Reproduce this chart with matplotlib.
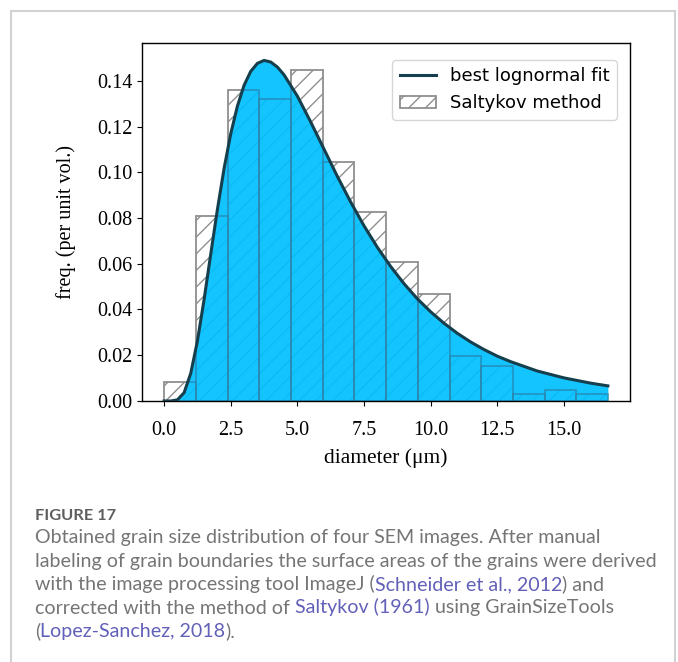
import numpy as np
import matplotlib.pyplot as plt
from matplotlib.patches import Rectangle

# Saltykov histogram (bin width in um, freq per unit vol.)
bin_width = 1.19
saltykov_freq = [0.0081, 0.0807, 0.1360, 0.1319, 0.1445, 0.1046, 0.0825,
                 0.0608, 0.0468, 0.0196, 0.0152, 0.0029, 0.0047, 0.0031]

# best lognormal fit
fit_x = [0.0, 0.25, 0.5, 0.75, 1.0, 1.25, 1.5, 1.75, 2.0, 2.25, 2.5, 2.75,
         3.0, 3.25, 3.5, 3.75, 4.0, 4.25, 4.5, 5.0, 5.5, 6.0, 6.5, 7.0,
         7.5, 8.0, 8.5, 9.0, 9.5, 10.0, 10.5, 11.0, 11.5, 12.0, 12.5,
         13.0, 14.0, 15.0, 16.0, 16.65]
fit_y = [0.0, 0.0, 0.0005, 0.0036, 0.0121, 0.0262, 0.0443, 0.0642, 0.0837,
         0.1016, 0.1168, 0.1289, 0.1380, 0.1441, 0.1476, 0.1489, 0.1482,
         0.1460, 0.1426, 0.1333, 0.1220, 0.1101, 0.0982, 0.0870, 0.0766,
         0.0672, 0.0588, 0.0513, 0.0447, 0.0390, 0.0340, 0.0296, 0.0258,
         0.0225, 0.0196, 0.0172, 0.0131, 0.0101, 0.0078, 0.0066]

xticks = [0.0, 2.5, 5.0, 7.5, 10.0, 12.5, 15.0]
yticks = [0.00, 0.02, 0.04, 0.06, 0.08, 0.10, 0.12, 0.14]

caption_title = 'FIGURE 17'
caption_lines = [
    [('Obtained grain size distribution of four SEM images. After manual', 'g')],
    [('labeling of grain boundaries the surface areas of the grains were derived', 'g')],
    [('with the image processing tool ImageJ (', 'g'), ('Schneider et al., 2012', 'l'), (') and', 'g')],
    [('corrected with the method of ', 'g'), ('Saltykov (1961)', 'l'), (' using GrainSizeTools', 'g')],
    [('(', 'g'), ('Lopez-Sanchez, 2018', 'l'), (').', 'g')],
]

plt.rcParams['font.family'] = ['Liberation Serif']
plt.rcParams['hatch.linewidth'] = 1.0

fig = plt.figure(figsize=(6.78, 6.62), dpi=100)
ax = fig.add_axes([0.2094, 0.3943, 0.7198, 0.5407])

bin_left = np.arange(len(saltykov_freq)) * bin_width
ax.bar(bin_left, saltykov_freq, width=bin_width, align='edge', fill=False,
       hatch='//', edgecolor='#8f8f8f', linewidth=1.3, zorder=1,
       label='Saltykov method')
area = ax.fill_between(fit_x, fit_y, 0, color='#00bfff', alpha=0.92,
                       linewidth=0, zorder=2)
# bar outlines showing through the blue area (only inside it)
inner = ax.bar(bin_left, saltykov_freq, width=bin_width, align='edge', fill=False,
               edgecolor='#2f7fa6', alpha=0.6, linewidth=1.3, zorder=2.5)
for p in inner:
    p.set_clip_path(area.get_paths()[0], ax.transData)
ax.plot(fit_x, fit_y, color='#163f4d', linewidth=2.2, zorder=3,
        label='best lognormal fit')

ax.set_xlim(-0.83, 17.48)
ax.set_ylim(0, 0.1565)
ax.set_xticks(xticks)
ax.set_xticklabels(['%.1f' % v for v in xticks])
ax.set_yticks(yticks)
ax.set_yticklabels(['%.2f' % v for v in yticks])
ax.tick_params(labelsize=14.5)
ax.tick_params(axis='x', pad=11)
for s in ax.spines.values():
    s.set_linewidth(1.0)
ax.set_xlabel('diameter (\u03bcm)', fontsize=15.5, labelpad=6)
ax.set_ylabel('freq. (per unit vol.)', fontsize=14.5, labelpad=15)

ax.legend(loc='upper right', bbox_to_anchor=(0.9734, 0.9525), borderaxespad=0,
          prop={'family': 'DejaVu Sans', 'size': 13})

# outer frame of the figure panel
fig.add_artist(Rectangle((11 / 678, -0.05), 664 / 678, 1.05 - 11 / 662,
                         transform=fig.transFigure, fill=False,
                         edgecolor='#d2d2d2', linewidth=1.5))

# caption
cap_font = 'Lato'
cap_size = 14.1
colors = {'g': '#757575', 'l': '#6260b8'}
fig.text(35 / 678, 1 - 520 / 662, caption_title, fontsize=11.8, family=cap_font,
         fontweight='bold', color='#5e5e5e', va='baseline')

renderer = fig.canvas.get_renderer()


def text_width(s):
    t = fig.text(0, 0, s, fontsize=cap_size, family=cap_font)
    w = t.get_window_extent(renderer).width
    t.remove()
    return w


space_w = text_width('a a') - text_width('aa')
base = 543
for i, line in enumerate(caption_lines):
    y = 1 - (base + i * 23.5) / 662
    prefix = ''
    for seg, c in line:
        stripped = prefix.rstrip(' ')
        x_px = 35 + (text_width(stripped) if stripped else 0) + space_w * (len(prefix) - len(stripped))
        fig.text(x_px / 678, y, seg, fontsize=cap_size, family=cap_font,
                 color=colors[c], va='baseline')
        prefix += seg

fig.savefig('out.png', dpi=100)
